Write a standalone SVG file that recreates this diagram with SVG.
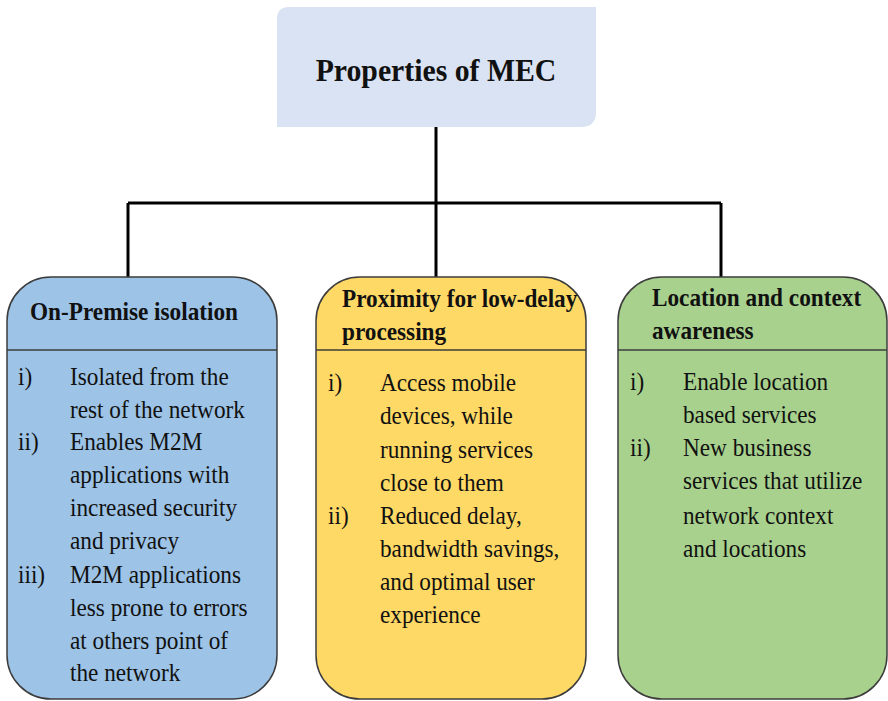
<svg xmlns="http://www.w3.org/2000/svg" width="888" height="701" viewBox="0 0 888 701">
  <style>
    .title { font-family: "Liberation Serif", "Times New Roman", serif; font-weight: bold; font-size: 32px; fill: #111; }
    .head { font-family: "Liberation Serif", "Times New Roman", serif; font-weight: bold; font-size: 25px; fill: #111; }
    .body { font-family: "Liberation Serif", "Times New Roman", serif; font-size: 25px; fill: #111; }
    .card { stroke: #3c3c3c; stroke-width: 1.5; }
    .rule { stroke: #3c3c3c; stroke-width: 1.5; fill: none; }
    .wire { stroke: #000; stroke-width: 3; fill: none; }
  </style>
  <rect width="888" height="701" fill="#ffffff"/>

  <!-- connectors from the root box to the three property cards -->
  <g id="connectors">
    <path class="wire" d="M436 127 V203"/>
    <path class="wire" d="M128 203 H721"/>
    <path class="wire" d="M128 203 V278"/>
    <path class="wire" d="M436 203 V278"/>
    <path class="wire" d="M721 203 V278"/>
  </g>

  <!-- root box -->
  <g id="root">
    <path d="M289 7 H596 V112 Q596 127 581 127 H277 V19 Q277 7 289 7 Z" fill="#dae3f3"/>
    <g transform="translate(436 0) scale(0.93 1)">
      <text class="title" x="0" y="81" text-anchor="middle">Properties of MEC</text>
    </g>
  </g>

  <!-- card 1: on-premise isolation -->
  <g id="on-premise">
    <rect class="card" x="7" y="277" width="270" height="422" rx="44" ry="44" fill="#9dc3e6"/>
    <line class="rule" x1="7" y1="350" x2="277" y2="350"/>
    <g transform="translate(30 0) scale(0.93 1)">
      <text class="head" x="0" y="320">On-Premise isolation</text>
    </g>
    <g transform="translate(18 0) scale(0.93 1)">
      <text class="body" x="0" y="385">i)</text>
      <text class="body" x="0" y="450">ii)</text>
      <text class="body" x="0" y="583">iii)</text>
    </g>
    <g transform="translate(70 0) scale(0.93 1)">
      <text class="body" x="0" y="385">Isolated from the</text>
      <text class="body" x="0" y="418">rest of the network</text>
      <text class="body" x="0" y="450">Enables M2M</text>
      <text class="body" x="0" y="483">applications with</text>
      <text class="body" x="0" y="516">increased security</text>
      <text class="body" x="0" y="549">and privacy</text>
      <text class="body" x="0" y="583">M2M applications</text>
      <text class="body" x="0" y="616">less prone to errors</text>
      <text class="body" x="0" y="649">at others point of</text>
      <text class="body" x="0" y="681">the network</text>
    </g>
  </g>

  <!-- card 2: proximity -->
  <g id="proximity">
    <rect class="card" x="316" y="277" width="270" height="422" rx="44" ry="44" fill="#ffd966"/>
    <line class="rule" x1="316" y1="350" x2="586" y2="350"/>
    <g transform="translate(342 0) scale(0.93 1)">
      <text class="head" x="0" y="307">Proximity for low-delay</text>
      <text class="head" x="0" y="340">processing</text>
    </g>
    <g transform="translate(328 0) scale(0.93 1)">
      <text class="body" x="0" y="391">i)</text>
      <text class="body" x="0" y="524">ii)</text>
    </g>
    <g transform="translate(380 0) scale(0.93 1)">
      <text class="body" x="0" y="391">Access mobile</text>
      <text class="body" x="0" y="424">devices, while</text>
      <text class="body" x="0" y="458">running services</text>
      <text class="body" x="0" y="491">close to them</text>
      <text class="body" x="0" y="524">Reduced delay,</text>
      <text class="body" x="0" y="557">bandwidth savings,</text>
      <text class="body" x="0" y="590">and optimal user</text>
      <text class="body" x="0" y="623">experience</text>
    </g>
  </g>

  <!-- card 3: location and context awareness -->
  <g id="location">
    <rect class="card" x="618" y="277" width="269" height="422" rx="44" ry="44" fill="#a9d18e"/>
    <line class="rule" x1="618" y1="350" x2="887" y2="350"/>
    <g transform="translate(652 0) scale(0.93 1)">
      <text class="head" x="0" y="306">Location and context</text>
      <text class="head" x="0" y="339">awareness</text>
    </g>
    <g transform="translate(630 0) scale(0.93 1)">
      <text class="body" x="0" y="390">i)</text>
      <text class="body" x="0" y="456">ii)</text>
    </g>
    <g transform="translate(683 0) scale(0.93 1)">
      <text class="body" x="0" y="390">Enable location</text>
      <text class="body" x="0" y="423">based services</text>
      <text class="body" x="0" y="456">New business</text>
      <text class="body" x="0" y="489">services that utilize</text>
      <text class="body" x="0" y="524">network context</text>
      <text class="body" x="0" y="557">and locations</text>
    </g>
  </g>
</svg>
